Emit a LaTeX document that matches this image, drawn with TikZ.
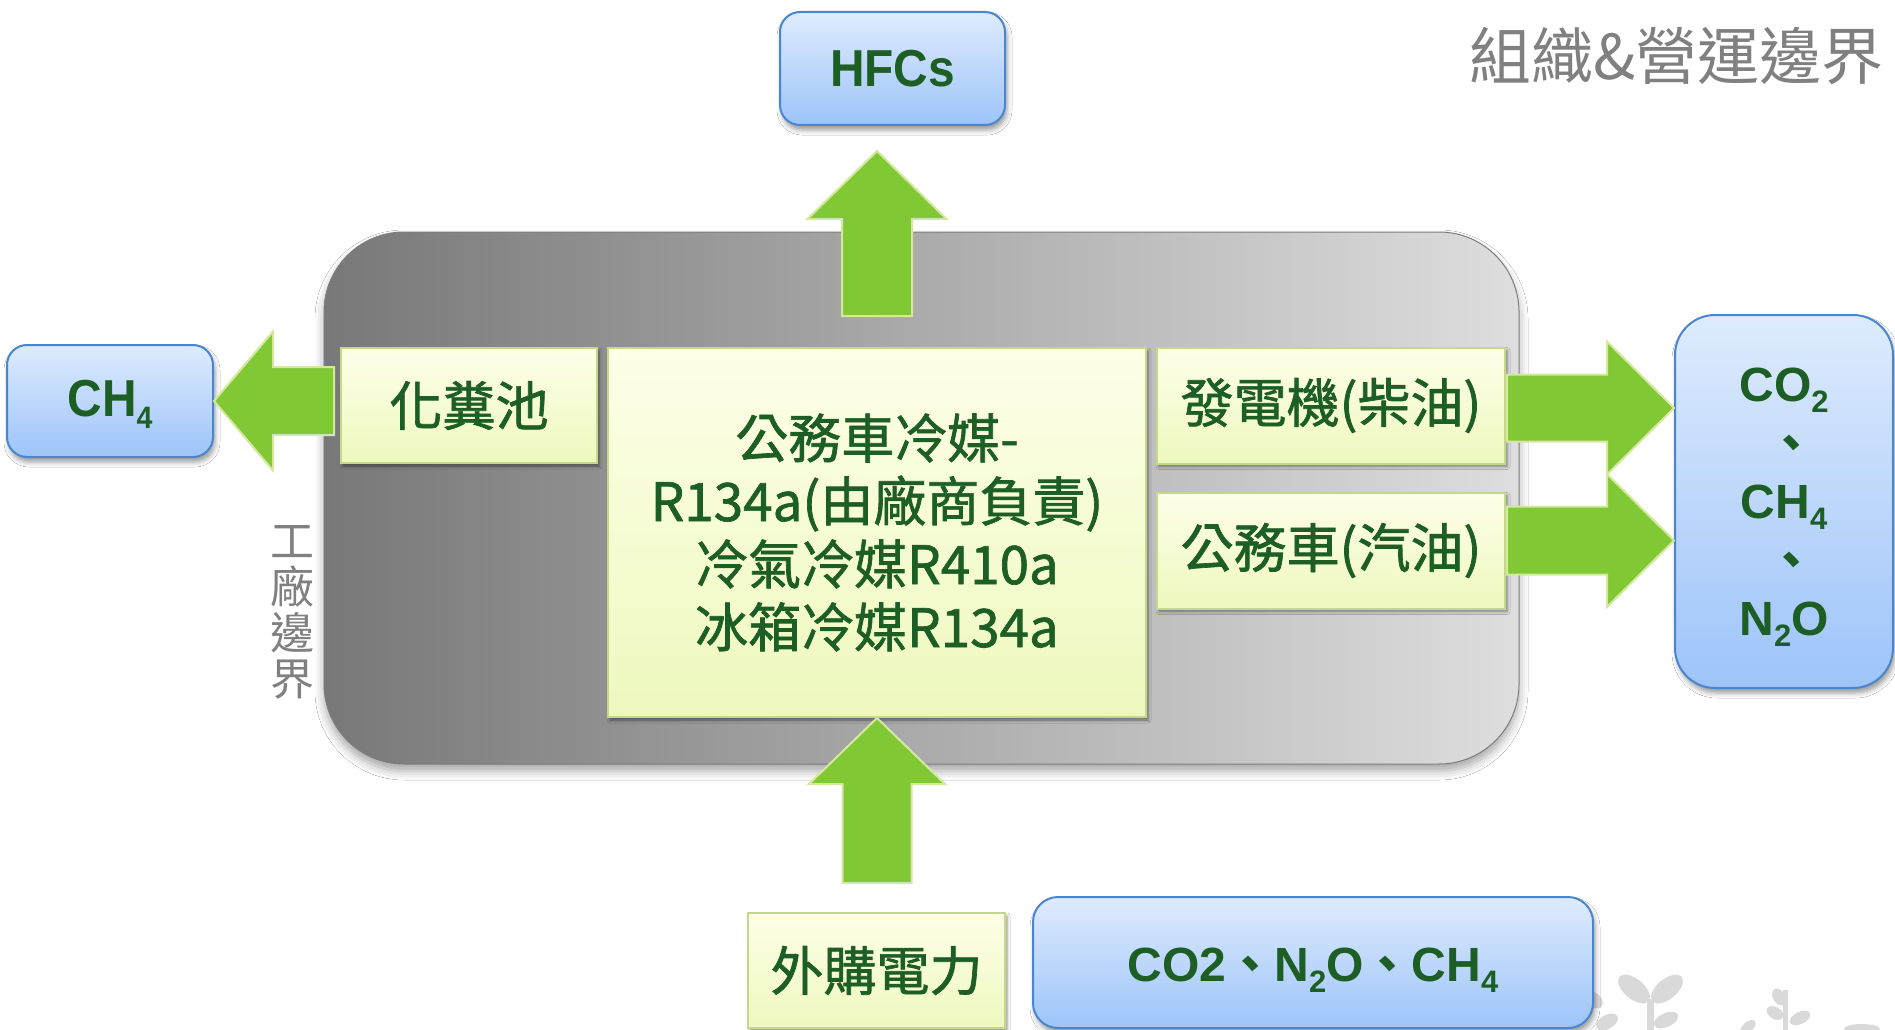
\documentclass[tikz,border=0pt]{standalone}
\usepackage{fontspec}
\setmainfont{Liberation Sans}
\newfontfamily\cjk{Noto Sans CJK TC}
\newfontfamily\cjkm{Noto Sans CJK TC}[FakeBold=1.3]
\usetikzlibrary{shadows.blur,calc}

\definecolor{txtgreen}{RGB}{29,94,36}
\definecolor{arrowgreen}{RGB}{128,201,52}
\definecolor{arrowedge}{RGB}{214,232,160}
\definecolor{ylwtop}{RGB}{253,255,232}
\definecolor{ylwbot}{RGB}{238,248,190}
\definecolor{ylwedge}{RGB}{196,216,140}
\definecolor{bluetop}{RGB}{222,235,253}
\definecolor{bluebot}{RGB}{157,196,249}
\definecolor{blueedge}{RGB}{74,134,207}
\definecolor{grayL}{RGB}{120,120,120}
\definecolor{grayR}{RGB}{222,222,222}
\definecolor{grayedge}{RGB}{125,125,125}
\definecolor{titlegray}{RGB}{128,128,128}
\definecolor{sproutgray}{RGB}{217,217,217}

\newcommand\lowsub[1]{\raisebox{-0.23em}{\fontsize{31}{31}\selectfont #1}}
\newcommand\greenarrow[6]{% tip, angle, length, shaft half, head half, head length
  \begin{scope}[shift={(#1)}, rotate=#2]
    \draw[garrow] (0,0) -- (-#6,#5) -- (-#6,#4) -- (-#3,#4) -- (-#3,-#4) -- (-#6,-#4) -- (-#6,-#5) -- cycle;
  \end{scope}}

\begin{document}
\begin{tikzpicture}[x=1pt,y=-1pt,
  graybox/.style={draw=grayedge, line width=1pt, left color=grayL, right color=grayR, rounded corners=80pt, inner sep=0pt,
    blur shadow={shadow xshift=0pt, shadow yshift=-7pt, shadow blur radius=9pt, shadow opacity=35}},
  ybox/.style={draw=ylwedge, line width=2pt, top color=ylwtop, bottom color=ylwbot, inner sep=0pt, text=txtgreen,
    font=\cjkm\fontsize{53}{63}\selectfont, align=center,
    blur shadow={shadow xshift=2pt, shadow yshift=-3pt, shadow blur radius=3pt, shadow opacity=45}},
  bbox/.style={draw=blueedge, line width=2pt, top color=bluetop, bottom color=bluebot, rounded corners=20pt, inner sep=0pt,
    text=txtgreen, font=\bfseries\fontsize{52}{60}\selectfont, align=center,
    blur shadow={shadow xshift=2pt, shadow yshift=-5pt, shadow blur radius=5pt, shadow opacity=40}},
  btext/.style={text=txtgreen, font=\bfseries\fontsize{48}{58.5}\selectfont, align=center, inner sep=0pt},
  garrow/.style={fill=arrowgreen, draw=arrowedge, line width=2pt, line join=miter},
  sprout/.style={fill=sproutgray},
  graytext/.style={text=titlegray, inner sep=0pt},
]
\useasboundingbox (0,0) rectangle (1895,1030);
\fill[white] (0,0) rectangle (1895,1030);

% background sprouts
\fill[sprout] (1647,999) rectangle (1654,1030);
\fill[sprout, rotate around={-40:(1634,989)}] (1634,989) ellipse (19 and 10);
\fill[sprout, rotate around={40:(1667,989)}] (1667,989) ellipse (19 and 10);
\fill[sprout, rotate around={25:(1666,1020)}] (1666,1020) ellipse (13 and 7);
\fill[sprout, rotate around={30:(1607,1022)}] (1607,1022) ellipse (12 and 7);
\fill[sprout, rotate around={-40:(1594,1000)}] (1594,1000) ellipse (10 and 7);
\fill[sprout] (1783,990) rectangle (1788,1030);
\fill[sprout, rotate around={-60:(1779,997)}] (1779,997) ellipse (9 and 6);
\fill[sprout, rotate around={-30:(1775,1013)}] (1775,1013) ellipse (9 and 6);
\fill[sprout, rotate around={25:(1800,1018)}] (1800,1018) ellipse (11 and 6);
\fill[sprout, rotate around={40:(1748,1027)}] (1748,1027) ellipse (9 and 5);
\fill[sprout] (1862,1029) ellipse (18 and 5);

% plant boundary
\node[graybox, minimum width=1195pt, minimum height=532pt] (plant) at (921.5,498) {};

% emission sources
\node[ybox, minimum width=256pt, minimum height=115pt] (septic) at (469,405.5) {化糞池};
\node[ybox, minimum width=538pt, minimum height=369pt] (refr) at (877,532.5)
  {公務車冷媒-\\R134a(由廠商負責)\\冷氣冷媒R410a\\冰箱冷媒R134a};
\node[ybox, minimum width=348pt, minimum height=116pt] (gen) at (1331,405.5) {發電機(柴油)};
\node[ybox, minimum width=348pt, minimum height=116pt] (car) at (1331,550.5) {公務車(汽油)};
\node[ybox, minimum width=257pt, minimum height=115pt] (power) at (876.5,970.5) {外購電力};

% greenhouse gases
\node[bbox, minimum width=225pt, minimum height=113pt] (hfc) at (892.5,68.5) {\scalebox{0.92}[1]{HFCs}};
\node[bbox, minimum width=206pt, minimum height=112pt] (ch4) at (110,401) {};
\node[btext, font=\bfseries\fontsize{52}{60}\selectfont] (ch4txt) at ($(ch4.center)+(0,3)$) {\scalebox{0.92}[1]{CH\lowsub{4}}};
\node[bbox, rounded corners=40pt, minimum width=218pt, minimum height=373pt] (ghg) at (1784,501.5) {};
\node[btext] (ghgtxt) at ($(ghg.center)+(0,6)$)
  {CO\lowsub{2}\\\hspace*{0.3em}{\cjk 、}\\CH\lowsub{4}\\\hspace*{0.3em}{\cjk 、}\\N\lowsub{2}O};
\node[bbox, rounded corners=25pt, minimum width=560pt, minimum height=131pt] (grid) at (1313,962.5) {};
\node[btext] (gridtxt) at ($(grid.center)+(0,8)$) {CO2{\cjk 、}N\lowsub{2}O{\cjk 、}CH\lowsub{4}};

% arrow tips
\coordinate (tipHFC) at ($(refr.north |- hfc.south)+(0,25)$);
\coordinate (tipCH4) at (ch4.east);
\coordinate (tipGen) at ($(ghg.west |- gen.east)+(0,2.5)$);
\coordinate (tipCar) at ($(ghg.west |- car.east)+(0,-10)$);
\coordinate (tipIn) at (refr.south);

\greenarrow{tipHFC}{90}{165}{35}{69.5}{68}
\greenarrow{tipCH4}{180}{120}{34}{69.5}{59}
\greenarrow{tipGen}{0}{167}{33.5}{66.5}{67}
\greenarrow{tipCar}{0}{167}{34}{66.5}{67}
\greenarrow{tipIn}{90}{165}{34.5}{68}{66}

% labels
\node[graytext, anchor=east, font=\cjk\fontsize{62}{62}\selectfont] (title) at (1884,56) {組織\&營運邊界};
\node[graytext, align=center, font=\cjk\fontsize{44}{46}\selectfont] (plantlbl) at (292,612) {工\\廠\\邊\\界};
\end{tikzpicture}
\end{document}
